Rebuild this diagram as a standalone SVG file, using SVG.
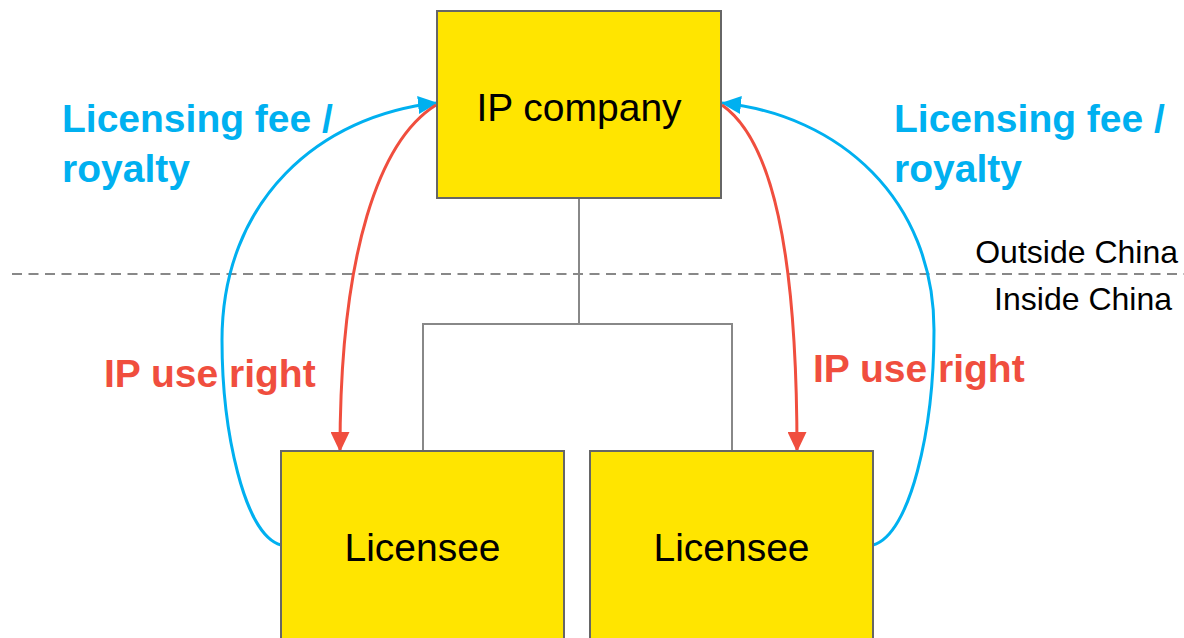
<svg xmlns="http://www.w3.org/2000/svg" width="1184" height="638" viewBox="0 0 1184 638">
<style>
.box{fill:#FFE500;stroke:#666;stroke-width:2}
.tree{fill:none;stroke:#888;stroke-width:2}
.dash{fill:none;stroke:#888;stroke-width:2;stroke-dasharray:10 6.5}
.blue{fill:none;stroke:#00B0F0;stroke-width:3}
.red{fill:none;stroke:#F04E3E;stroke-width:3}
.t{font-family:"Liberation Sans",Arial,sans-serif;fill:#000}
.node{font-size:39px;text-anchor:middle}
.region{font-size:32px;text-anchor:end}
.bl{font-family:"Liberation Sans",Arial,sans-serif;font-weight:bold;font-size:39px;fill:#00B0F0}
.rd{font-family:"Liberation Sans",Arial,sans-serif;font-weight:bold;font-size:39px;fill:#F04E3E}
</style>
<defs>
<marker id="ab" markerUnits="userSpaceOnUse" markerWidth="20" markerHeight="18" viewBox="0 0 20 18" refX="19" refY="9" orient="auto">
<path d="M0,0 L20,9 L0,18 z" fill="#00B0F0"/>
</marker>
<marker id="ar" markerUnits="userSpaceOnUse" markerWidth="20" markerHeight="19" viewBox="0 0 20 19" refX="19" refY="9.5" orient="auto">
<path d="M0,0 L20,9.5 L0,19 z" fill="#F04E3E"/>
</marker>
</defs>
<line class="dash" x1="12" y1="274" x2="1184" y2="274"/>
<text class="t region" x="1178" y="263">Outside China</text>
<text class="t region" x="1172" y="310">Inside China</text>
<g id="connectors">
<path class="tree" d="M579,198 V324 M423,451 V324 H732 V451"/>
<path class="blue" marker-end="url(#ab)" d="M281,545 C244,535 222,430 222,340 C222,200 320,115 437,103"/>
<path class="blue" marker-end="url(#ab)" d="M873,545 C910,535 934,430 934,330 C934,200 840,115 722,103"/>
<path class="red" marker-end="url(#ar)" d="M436,105 C380,140 340,250 340,451"/>
<path class="red" marker-end="url(#ar)" d="M722,105 C772,140 797,250 797,451"/>
</g>
<g id="ip-company">
<rect class="box" x="437" y="11" width="284" height="187"/>
<text class="t node" x="579" y="121">IP company</text>
</g>
<g id="licensee-1">
<rect class="box" x="281" y="451" width="283" height="200"/>
<text class="t node" x="422.5" y="561">Licensee</text>
</g>
<g id="licensee-2">
<rect class="box" x="590" y="451" width="283" height="200"/>
<text class="t node" x="731.5" y="561">Licensee</text>
</g>
<g id="labels">
<text class="bl" x="62" y="132">Licensing fee /</text>
<text class="bl" x="62" y="182">royalty</text>
<text class="bl" x="894" y="132">Licensing fee /</text>
<text class="bl" x="894" y="182">royalty</text>
<text class="rd" x="104" y="387">IP use right</text>
<text class="rd" x="813" y="382">IP use right</text>
</g>
</svg>
